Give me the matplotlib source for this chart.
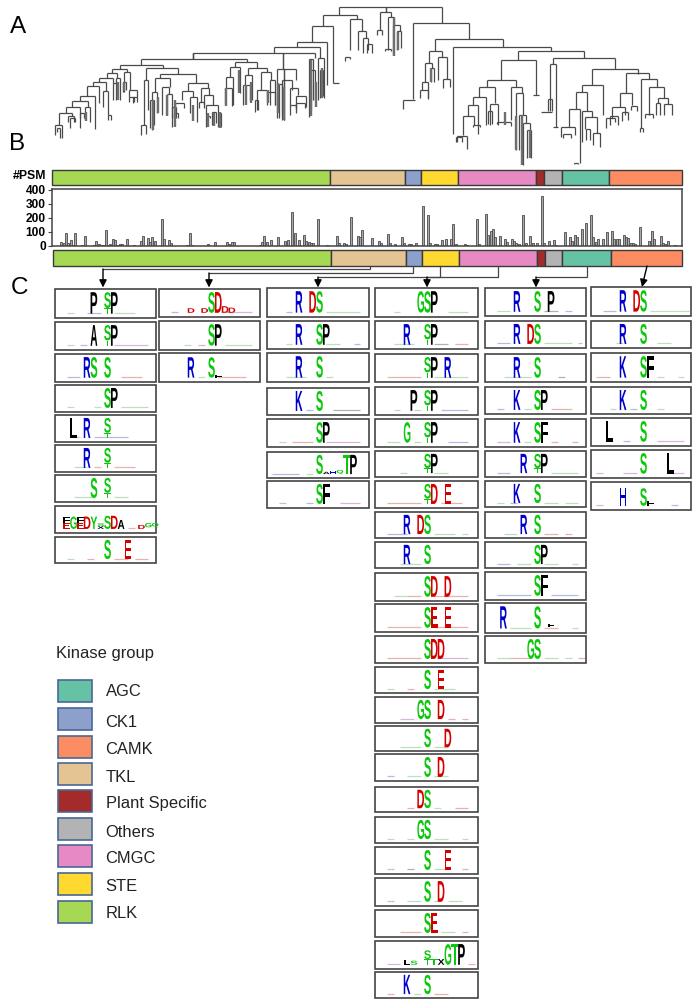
"""Kinase phosphosite figure: tree (A), group strips and #PSM bars (B), motif logos (C)."""
import matplotlib
matplotlib.use('Agg')
import matplotlib.pyplot as plt
from matplotlib.collections import LineCollection
from matplotlib.colors import to_rgba
from matplotlib.font_manager import FontProperties
from matplotlib.patches import Rectangle
from matplotlib.text import Text
from matplotlib.textpath import TextPath
from matplotlib.transforms import Affine2D, Bbox

W, H = 698, 1005
FONT = 'Liberation Sans'

# ---- group strips, left to right, and where each group ends on the strip
GROUPS = ['RLK', 'TKL', 'CK1', 'STE', 'CMGC', 'Plant Specific', 'Others', 'AGC', 'CAMK']
GROUP_COLOR = {
    'AGC': '#66C2A5', 'CK1': '#8DA0CB', 'CAMK': '#FC8D62', 'TKL': '#E5C494',
    'Plant Specific': '#A52A2A', 'Others': '#B3B3B3', 'CMGC': '#E78AC3',
    'STE': '#FFD92F', 'RLK': '#A6D854',
}
LEGEND_ORDER = ['AGC', 'CK1', 'CAMK', 'TKL', 'Plant Specific', 'Others', 'CMGC', 'STE', 'RLK']
STRIP_TOP_EDGES = [52, 330, 405, 421, 458, 536, 544, 562, 609, 682]
STRIP_BOTTOM_EDGES = [53, 331, 406, 422, 459, 537, 545, 562, 611, 682]

# ---- #PSM per kinase slot
BAR_SLOT = [4, 5, 6, 7, 8, 9, 10, 13, 14, 18, 19, 20, 21, 22, 23, 24, 25, 26, 27, 28, 29, 30, 32, 35,
            38, 39, 41, 42, 43, 44, 47, 48, 50, 51, 54, 58, 59, 60, 63, 67, 70, 75, 76, 77, 78,
            86, 87, 89, 90, 91, 92, 94, 97, 100, 101, 103, 104, 106, 108, 109, 110, 111, 112, 114,
            118, 122, 123, 125, 126,
            128, 131, 132, 133, 137, 140, 141, 144, 145, 147, 150, 151, 153, 154, 156, 159, 161, 162,
            164, 165, 167, 169, 171, 172, 173, 177, 178, 182, 183, 186, 187, 188, 189, 190, 192, 194,
            195, 197, 198, 199, 200, 202, 203, 205, 206, 208, 210, 211, 213, 215, 216, 220, 222, 223,
            224, 225, 227, 229, 231, 232, 233, 234, 236, 238, 240, 241, 242, 243, 245, 246, 247, 248,
            249, 250, 252, 256, 257, 258, 261, 262, 263, 264, 267]
BAR_PSM = [25, 20, 95, 18, 45, 8, 92, 5, 68, 10, 35, 15, 5, 5, 113, 10, 12, 50, 45, 10, 15, 15, 50, 8,
           35, 68, 55, 30, 62, 35, 190, 50, 45, 20, 3, 5, 90, 5, 3, 15, 30, 25, 15, 25, 25,
           3, 3, 10, 25, 70, 28, 40, 65, 35, 45, 245, 90, 45, 75, 35, 30, 20, 20, 190,
           8, 70, 20, 20, 15,
           210, 74, 67, 114, 60, 38, 24, 83, 20, 14, 67, 20, 12, 14, 24, 285, 220, 24,
           14, 14, 43, 48, 48, 155, 14, 12, 8, 190, 14, 230, 80, 110, 124, 62, 71, 52,
           30, 48, 33, 19, 14, 220, 19, 74, 19, 19, 357, 19, 38, 43, 10, 98, 62, 38,
           81, 67, 119, 167, 220, 67, 31, 52, 48, 98, 110, 48, 48, 48, 79, 67, 60, 24,
           24, 14, 133, 33, 105, 52, 69, 24, 14, 33, 5]
PSM_TICKS = [0, 100, 200, 300, 400]

# ---- tree: (left x, right x, bar y, left foot y, right foot y)
TREE = [
    (339, 442, 7, 15, 23), (386, 386, 7, 12, 12), (380, 391, 12, 30, 17), (377, 382, 30, 35, 35),
    (388, 394, 17, 50, 25), (393, 400, 25, 55, 31), (397, 401, 31, 50, 48), (385, 391, 49, 51, 51),
    (323, 357, 15, 26, 19), (350, 362, 19, 50, 31), (358, 366, 31, 50, 38), (363, 368, 38, 53, 50),
    (367, 372, 44, 53, 53), (345, 350, 57, 61, 59),
    (312, 333, 26, 42, 83), (333, 339, 83, 83, 83), (297, 327, 42, 47, 85), (274, 320, 47, 53, 58),
    (193, 315, 53, 59, 58), (283, 283, 53, 69, 69), (309, 313, 59, 117, 100), (318, 324, 58, 100, 98),
    (311, 315, 70, 110, 100), (320, 323, 70, 98, 96),
    (141, 247, 59, 65, 62), (193, 193, 53, 59, 59),
    (277, 296, 69, 118, 80), (284, 284, 69, 120, 120), (282, 292, 80, 120, 90), (290, 298, 88, 105, 95),
    (296, 306, 96, 110, 107), (296, 305, 103, 108, 108), (290, 296, 105, 115, 113), (279, 282, 84, 118, 115),
    (235, 257, 62, 67, 68), (230, 240, 67, 77, 93), (226, 233, 77, 88, 105), (225, 232, 88, 103, 106),
    (248, 267, 68, 75, 72), (245, 252, 75, 85, 100), (243, 250, 85, 105, 100), (261, 271, 72, 90, 80),
    (257, 267, 90, 110, 97), (255, 258, 100, 112, 110), (267, 275, 92, 105, 105), (270, 275, 80, 105, 105),
    (120, 163, 65, 69, 68), (146, 178, 68, 80, 74), (144, 148, 80, 125, 110), (141, 146, 125, 135, 134),
    (160, 196, 74, 78, 83), (155, 170, 78, 92, 87), (152, 157, 92, 130, 113), (150, 154, 100, 128, 125),
    (162, 169, 87, 115, 94), (167, 172, 94, 115, 127), (172, 176, 107, 118, 118),
    (188, 208, 83, 91, 88), (182, 193, 91, 100, 97), (175, 184, 103, 112, 108), (174, 178, 113, 118, 118),
    (190, 197, 97, 113, 122), (201, 209, 88, 102, 95), (199, 204, 102, 108, 108), (204, 213, 95, 105, 105),
    (206, 210, 116, 127, 118), (212, 216, 112, 125, 123), (218, 221, 113, 127, 127), (206, 218, 105, 116, 113),
    (112, 127, 69, 73, 72), (107, 117, 73, 78, 78), (116, 120, 78, 100, 100), (124, 130, 72, 92, 90),
    (123, 126, 82, 92, 90), (129, 137, 90, 97, 97), (129, 134, 97, 102, 102), (133, 137, 97, 103, 102),
    (99, 113, 78, 82, 83), (113, 117, 83, 100, 97), (93, 106, 82, 86, 91), (103, 108, 91, 107, 115),
    (108, 111, 115, 120, 120), (87, 99, 86, 96, 103), (80, 95, 96, 101, 129), (72, 88, 101, 107, 107),
    (85, 90, 107, 120, 122), (66, 80, 107, 113, 128), (80, 84, 113, 118, 118), (59, 72, 113, 125, 116),
    (55, 62, 125, 135, 138), (57, 60, 128, 132, 138), (68, 74, 116, 122, 122), (70, 75, 118, 128, 122),
    (413, 469, 23, 99, 39), (403, 415, 100, 109, 100), (435, 503, 39, 51, 47), (429, 442, 51, 63, 57),
    (425, 432, 63, 82, 68), (431, 434, 68, 82, 82), (422, 428, 82, 90, 99), (420, 428, 90, 98, 98),
    (438, 447, 57, 80, 79), (443, 450, 79, 88, 87), (453, 551, 47, 134, 51), (518, 584, 51, 60, 58),
    (501, 536, 60, 80, 95), (533, 539, 95, 95, 95), (487, 516, 80, 87, 87), (479, 495, 87, 97, 103),
    (473, 486, 97, 105, 125), (468, 478, 105, 116, 134), (463, 474, 116, 135, 125), (473, 480, 125, 127, 127),
    (457, 467, 136, 142, 149), (456, 462, 137, 142, 142), (490, 498, 104, 125, 125), (488, 492, 111, 124, 124),
    (511, 522, 87, 120, 93), (497, 511, 122, 124, 126), (516, 523, 93, 150, 115), (519, 526, 115, 150, 123),
    (523, 530, 123, 165, 130), (527, 531, 130, 158, 158),
    (553, 615, 58, 64, 69), (550, 556, 64, 111, 127), (548, 552, 99, 111, 111), (541, 552, 112, 112, 112),
    (553, 558, 127, 127, 127), (592, 638, 69, 85, 74), (582, 603, 85, 92, 115), (576, 587, 92, 109, 111),
    (569, 580, 109, 127, 163), (561, 575, 127, 137, 135), (563, 571, 134, 138, 138), (574, 578, 163, 164, 164),
    (582, 592, 111, 142, 117), (585, 597, 117, 129, 133), (586, 590, 129, 140, 140), (593, 600, 133, 145, 147),
    (626, 649, 73, 93, 79), (620, 632, 93, 107, 105), (612, 625, 107, 118, 115), (606, 615, 118, 128, 122),
    (610, 618, 116, 125, 125), (622, 628, 112, 121, 120), (631, 637, 106, 110, 111),
    (641, 657, 79, 128, 87), (640, 643, 128, 132, 132), (649, 664, 87, 115, 98), (645, 653, 114, 118, 118),
    (658, 668, 98, 103, 104), (656, 660, 103, 115, 115), (664, 672, 104, 115, 115),
]
# dense leaf groups that merge into thick grey bars: (x, top y, bottom y)
TREE_THICK = [
    (86, 112, 121), (117.5, 82, 100), (124, 82, 91), (153, 100, 130), (158, 97, 113), (167, 95, 116),
    (175, 100, 127), (193, 105, 121), (208, 113, 127), (214, 113, 126), (220, 112, 128), (226, 88, 106),
    (239, 70, 93), (246, 85, 105), (251, 82, 103), (268, 90, 103), (278, 83, 113), (284, 87, 120),
    (311, 60, 116), (316, 82, 107), (322, 68, 98), (393.5, 18, 56), (398, 32, 50), (431, 68, 82),
    (505, 112, 125), (516, 116, 150), (522, 115, 165), (530, 130, 158),
]

# ---- motif logos, column by column: (letter, site offset[, height, base]), S = phosphosite
ST = [('S', 0, .74, .26), ('T', 0, .25, 0)]
COL1_LOGOS = [
    [('P', -2), *ST, ('P', 1)],
    [('A', -2), *ST, ('P', 1)],
    [('R', -3), ('S', -2), ('S', 0)],
    [('S', 0), ('P', 1)],
    [('L', -5), ('R', -3), *ST],
    [('R', -3), *ST],
    [('S', -2), *ST],
    [('E', -6, .3, 0), ('F', -6, .29, .31), ('G', -5, .62, 0), ('E', -4, .3, 0), ('F', -4, .29, .31),
     ('D', -3, .62, 0), ('Y', -2, .62, 0), ('X', -1, .14, 0), ('S', -1, .14, .15), ('S', 0, .66, 0),
     ('D', 1, .66, 0), ('A', 2, .45, 0), ('D', 5, .2, 0), ('G', 6, .22, .08), ('Q', 7, .22, .08)],
    [('S', 0), ('E', 3)],
]
COL2_LOGOS = [
    [('D', -3, .22, 0), ('D', -1, .22, 0), ('S', 0, 1, 0), ('D', 1, 1, 0), ('D', 2, .32, 0), ('D', 3, .25, 0)],
    [('S', 0), ('P', 1)],
    [('R', -3, .95, 0), ('S', 0, .95, 0), ('F', 1, .14, 0)],
]
COL3_LOGOS = [
    [('R', -3), ('D', -1), ('S', 0)],
    [('R', -3), ('S', 0), ('P', 1)],
    [('R', -3), ('S', 0)],
    [('K', -3), ('S', 0)],
    [('S', 0), ('P', 1)],
    [('S', 0), ('A', 1, .12, 0), ('H', 2, .18, 0), ('Q', 3, .22, 0), ('T', 4), ('P', 5)],
    [('S', 0), ('F', 1)],
]
COL4_LOGOS = [
    [('G', -1), ('S', 0), ('P', 1)],
    [('R', -3), *ST, ('P', 1)],
    [*ST, ('P', 1), ('R', 3)],
    [('P', -2), *ST, ('P', 1)],
    [('G', -3), *ST, ('P', 1)],
    [*ST, ('P', 1)],
    [*ST, ('D', 1), ('E', 3)],
    [('R', -3), ('D', -1), ('S', 0)],
    [('R', -3), ('S', 0)],
    [('S', 0), ('D', 1), ('D', 3)],
    [('S', 0), ('E', 1), ('E', 3)],
    [('S', 0), ('D', 1), ('D', 2)],
    [('S', 0), ('E', 2)],
    [('G', -1), ('S', 0), ('D', 2)],
    [('S', 0), ('D', 3)],
    [('S', 0), ('D', 2)],
    [('D', -1), ('S', 0)],
    [('G', -1), ('S', 0)],
    [('S', 0), ('E', 3)],
    [('S', 0), ('D', 2)],
    [('S', 0), ('E', 1)],
    [('L', -3, .25, 0), ('S', -2, .2, 0), ('S', 0, .42, .28), ('T', 0, .27, 0), ('T', 1, .3, 0),
     ('X', 2, .28, 0), ('G', 3), ('T', 4), ('P', 5)],
    [('K', -3), ('S', 0)],
]
COL5_LOGOS = [
    [('R', -3), ('S', 0), ('P', 2)],
    [('R', -3), ('D', -1), ('S', 0)],
    [('R', -3), ('S', 0)],
    [('K', -3), ('S', 0), ('P', 1)],
    [('K', -3), ('S', 0), ('F', 1)],
    [('R', -2), *ST, ('P', 1)],
    [('K', -3), ('S', 0)],
    [('R', -2), ('S', 0)],
    [('S', 0), ('P', 1)],
    [('S', 0), ('F', 1)],
    [('R', -5), ('S', 0), ('F', 2, .14, .08)],
    [('G', -1), ('S', 0)],
]
COL6_LOGOS = [
    [('R', -3), ('D', -1), ('S', 0)],
    [('R', -3), ('S', 0)],
    [('K', -3), ('S', 0), ('F', 1)],
    [('K', -3), ('S', 0)],
    [('L', -5), ('S', 0)],
    [('S', 0), ('L', 4)],
    [('H', -3, .85, 0), ('S', 0, .85, 0), ('F', 1, .25, 0)],
]
COLUMN_LOGOS = [COL1_LOGOS, COL2_LOGOS, COL3_LOGOS, COL4_LOGOS, COL5_LOGOS, COL6_LOGOS]

# faint background of each logo: (from offset, to offset, colour)
COL1_NOISE = [
    [(-6, -5, 'g'), (-3, -1, 'b'), (1, 4, 'g')], [(-6, -5, 'g'), (-4, -3, 'b'), (1, 6, 'm')],
    [(-6, -4, 'b'), (2, 5, 'r')], [(-6, -5, 'g'), (-2, -1, 'g'), (2, 6, 'g')],
    [(-5, -4, 'g'), (-2, 3, 'b')], [(-5, -3, 'g'), (-2, -1, 'r'), (1, 4, 'r')],
    [(-5, -2, 'g'), (1, 3, 'g')], [(3, 4, 'r')], [(-6, -5, 'g'), (-3, -2, 'r'), (1, 3, 'r'), (4, 6, 'r')],
]
COL2_NOISE = [[(-6, -5, 'b'), (2, 6, 'm')], [(-4, -3, 'g'), (-2, -1, 'r'), (2, 6, 'g')], [(-2, -1, 'g'), (1, 5, 'r')]]
COL3_NOISE = [
    [(-5, -4, 'b'), (1, 6, 'g')], [(-5, -4, 'g'), (1, 3, 'g'), (5, 6, 'b')], [(-5, -2, 'g'), (1, 2, 'g')],
    [(-2, -1, 'b'), (2, 6, 'k')], [(-6, -5, 'g'), (-4, -1, 'r'), (1, 6, 'm')], [(-7, -3, 'b'), (-2, -1, 'g')],
    [(-6, -5, 'm'), (-2, -1, 'b'), (3, 6, 'm')],
]
COL4_NOISE = [
    [(-5, -4, 'g'), (3, 6, 'g')], [(-5, -2, 'g'), (1, 3, 'k'), (4, 6, 'r')], [(-6, -1, 'r'), (1, 6, 'g')],
    [(-5, -4, 'g'), (-2, -1, 'g'), (2, 6, 'b')], [(-6, -4, 'g'), (-2, -1, 'g'), (3, 6, 'b')], [(-4, -3, 'g'), (1, 3, 'g')],
    [(-6, -1, 'r'), (2, 2.5, 'r'), (3, 5, 'r')], [(-6, -3, 'b'), (1, 4, 'g'), (5, 6, 'g')], [(-4, -1, 'g')],
    [(-5, -3, 'g'), (-3, -1, 'r'), (1, 6, 'r')], [(-6, -1, 'r'), (1, 6, 'r')], [(-6, -1, 'r'), (2, 6, 'm')],
    [(-6, -5, 'g'), (-3, -2, 'r'), (1, 4, 'g')], [(-4, -2, 'm'), (3, 4, 'r'), (5, 6, 'r')], [(-4, -1, 'g'), (1, 3, 'g')],
    [(-6, -5, 'b'), (-3, -1, 'g'), (1, 3, 'g')], [(-3, -2, 'r'), (1, 2, 'g'), (4, 6, 'r')], [(-6, -5, 'g'), (-3, -2, 'g'), (1, 3, 'g'), (5, 6, 'g')],
    [(-6, -5, 'm'), (-3, -2, 'k'), (1, 3, 'g'), (5, 6, 'r')], [(-6, -5, 'm'), (-3, -1, 'g'), (1, 2, 'g'), (3, 5, 'g')],
    [(-4, -1, 'r'), (2, 4, 'g'), (5, 6, 'r')], [(-6, -4, 'm'), (6, 7, 'r')], [(-6, -5, 'r'), (-2, -1, 'g'), (1, 3, 'r')],
]
COL5_NOISE = [
    [(-6, -4, 'g'), (1, 3, 'k'), (4, 5, 'b')], [(-6, -4, 'b'), (1, 5, 'g'), (6, 6.5, 'r')], [(-5, -1, 'g'), (3, 4, 'k')],
    [(-6, -5, 'b'), (-2, -1, 'g'), (2, 5, 'r')], [(-6, -4, 'm'), (-2, -1, 'g'), (2, 3, 'r'), (5, 6, 'r')],
    [(-6, -4, 'b'), (2, 6, 'g')], [(-6, -5, 'g'), (-4, -3, 'b'), (1, 3, 'g'), (4, 6, 'g')], [(-5, -3, 'g'), (1, 3, 'r'), (4, 5, 'r')],
    [(-6, -4, 'b'), (-3, -1, 'g'), (1, 3, 'g'), (5, 6, 'g')], [(-6, -1, 'b'), (2, 6, 'b')], [(-4, -1, 'g'), (1, 3, 'r'), (5, 6, 'g')],
    [(-6, -4, 'g'), (-4, -1, 'r'), (1, 3, 'g'), (4, 5, 'g'), (6, 7, 'r')],
]
COL6_NOISE = [
    [(-6, -4, 'b'), (1, 7, 'g')], [(-4, -3, 'g'), (2, 4, 'g')], [(-7, -5, 'r'), (2, 3, 'g'), (5, 6, 'g')],
    [(-5, -4, 'g'), (-2, -1, 'b'), (2, 3, 'g')], [(-3, -2, 'b'), (-1, -1, 'g'), (2, 6, 'm')], [(-7, -6, 'm'), (-3, -1, 'm'), (4, 6, 'm')],
    [(-7, -6, 'm'), (4, 5, 'b')],
]
COLUMN_NOISE = [COL1_NOISE, COL2_NOISE, COL3_NOISE, COL4_NOISE, COL5_NOISE, COL6_NOISE]

# box outlines of the logo panels (layout of the reference)
COLUMN_X = [(55, 156), (159, 260), (267, 369), (375, 478), (485, 586), (591, 691)]
COLUMN_Y = [
    [(289, 318), (322, 350), (354, 382), (385, 412), (415, 442), (445, 472), (475, 502), (506, 533), (537, 563)],
    [(289, 317), (321, 350), (353, 382)],
    [(288, 317), (321, 349), (353, 382), (388, 415), (419, 447), (452, 478), (481, 508)],
    [(288, 317), (321, 349), (354, 382), (387, 415), (419, 447), (451, 477), (481, 508), (512, 538), (542, 568),
     (573, 601), (604, 632), (636, 663), (667, 693), (697, 723), (726, 751), (754, 781), (787, 812), (817, 843),
     (847, 874), (878, 906), (910, 937), (941, 969), (972, 998)],
    [(288, 316), (321, 348), (354, 382), (387, 414), (419, 447), (451, 477), (481, 507), (512, 538), (542, 568),
     (572, 600), (603, 633), (636, 663)],
    [(287, 316), (321, 348), (353, 382), (387, 414), (418, 446), (450, 478), (482, 510)],
]
LETTER_COLOR = {
    'S': '#0CC80C', 'T': '#0CC80C', 'G': '#0CC80C', 'Y': '#0CC80C', 'Q': '#0CC80C',
    'D': '#D40000', 'E': '#D40000', 'R': '#0000CC', 'K': '#0000CC', 'H': '#0000CC',
    'P': '#000000', 'A': '#000000', 'L': '#000000', 'F': '#000000', 'X': '#000000',
}
NOISE_COLOR = {'g': '#4CAF50', 'r': '#C0392B', 'b': '#3A4FB0', 'k': '#333333', 'm': '#A03CA0'}
SITE_FROM_LEFT = 52.5
COLUMN_STEP = 6.8
LETTER_WIDTH = 6.7


class LogoLetter(Text):
    """A real text letter stretched to fill a logo cell, as sequence logos do."""

    def __init__(self, x, y_base, width, height, letter, color):
        # nominal size follows the cell; draw() does the actual stretching
        super().__init__(x, y_base, letter, color=color, fontfamily=FONT, fontweight='bold',
                         fontsize=min(7, 0.6 * height))
        self.cell = (x, y_base, width, height)

    def get_window_extent(self, renderer=None, dpi=None):
        x, y, w, h = self.cell
        return Bbox(self.axes.transData.transform([(x, y), (x + w, y - h)]))

    def draw(self, renderer):
        x, y, w, h = self.cell
        path = TextPath((0, 0), self.get_text(), size=10, prop=FontProperties(family=FONT, weight='bold'))
        box = path.get_extents()
        tr = (Affine2D().translate(-box.x0, -box.y0).scale(w / box.width, -h / box.height)
              .translate(x, y) + self.axes.transData)
        gc = renderer.new_gc()
        gc.set_linewidth(0)
        renderer.draw_path(gc, path, tr, rgbFace=to_rgba(self.get_color()))
        gc.restore()


def draw_strip(ax, edges, top, bottom):
    for name, x0, x1 in zip(GROUPS, edges[:-1], edges[1:]):
        ax.add_patch(Rectangle((x0, top), x1 - x0, bottom - top, facecolor=GROUP_COLOR[name],
                               edgecolor='#3a3a3a', linewidth=1.0))


def draw_tree(ax):
    segs = []
    for xl, xr, y, yl, yr in TREE:
        segs += [[(xl, y), (xr, y)], [(xl, y), (xl, yl)], [(xr, y), (xr, yr)]]
    ax.add_collection(LineCollection(segs, colors='#4a4a4a', linewidths=0.9, zorder=5))
    thick = [[(x, y0), (x, y1)] for x, y0, y1 in TREE_THICK]
    ax.add_collection(LineCollection(thick, colors='#6e6e6e', linewidths=1.7, zorder=5))


def draw_logo(ax, x0, x1, top, bottom, letters, noise):
    ax.add_patch(Rectangle((x0, top), x1 - x0, bottom - top, facecolor='white', edgecolor='#444444', linewidth=1.2))
    site = x0 + SITE_FROM_LEFT
    base = bottom - 0.15 * (bottom - top)
    full = 0.74 * (bottom - top)
    for k0, k1, c in noise:
        ax.hlines(base - 0.6, site + k0 * COLUMN_STEP, site + k1 * COLUMN_STEP, colors=NOISE_COLOR[c],
                  linewidth=0.9, alpha=0.38)
    for item in letters:
        letter, k = item[:2]
        h, b = item[2:] if len(item) > 2 else (1, 0)
        ax.add_artist(LogoLetter(site + k * COLUMN_STEP - LETTER_WIDTH / 2, base - b * full, LETTER_WIDTH, h * full,
                                 letter, LETTER_COLOR[letter]))


def arrow(ax, start, end):
    ax.annotate('', xy=end, xytext=start,
                arrowprops=dict(arrowstyle='-|>', color='black', lw=1.0, mutation_scale=11,
                                shrinkA=0, shrinkB=0))


def main():
    fig = plt.figure(figsize=(W / 100, H / 100), dpi=100)
    ax = fig.add_axes([0, 0, 1, 1])
    ax.set_xlim(0, W)
    ax.set_ylim(H, 0)
    ax.set_axis_off()

    for s, x, y in [('A', 10, 27), ('B', 9, 144), ('C', 11, 288)]:
        ax.text(x, y, s, fontsize=17.5, family=FONT, va='center', ha='left')

    draw_strip(ax, STRIP_TOP_EDGES, 169.5, 185)
    draw_strip(ax, STRIP_BOTTOM_EDGES, 250, 266)
    draw_tree(ax)
    ax.text(46, 176, '#PSM', fontsize=8.8, family=FONT, fontweight='bold', ha='right', va='center')

    # bars of B on their own axes: slot 0..270 spans the strip, 0 at the floor
    ax_bar = fig.add_axes([52 / W, 1 - 246 / H, 630 / W, 57 / H])
    ax_bar.bar(BAR_SLOT, BAR_PSM, width=0.95, facecolor='#a8a8a8', edgecolor='#4a4a4a', linewidth=0.6)
    ax_bar.set_xlim(0, 270)
    ax_bar.set_ylim(0, 407)
    ax_bar.set_xticks([])
    ax_bar.set_yticks(PSM_TICKS)
    ax_bar.tick_params(axis='y', length=3, width=0.8, pad=1.5, color='#444444')
    for lab in ax_bar.get_yticklabels():
        lab.set_fontsize(8.6)
        lab.set_fontweight('bold')
        lab.set_family(FONT)
    for sp in ax_bar.spines.values():
        sp.set_color('#444444')
        sp.set_linewidth(1.1)

    # connectors from the lower strip down to the logo columns
    for xs, ys in [([370, 370, 103], [266, 269, 269]), ([413, 413, 209], [266, 273, 273]),
                   ([498, 498, 318], [266, 277, 277]), ([440, 440, 427], [266, 277, 277]),
                   ([587, 587, 536], [266, 277, 277])]:
        ax.plot(xs, ys, color='#444444', lw=0.9, solid_joinstyle='miter')
    for x, y0 in [(103, 269), (209, 273), (318, 277), (427, 277), (536, 277)]:
        arrow(ax, (x, y0), (x, 287.5))
    arrow(ax, (647, 266), (642, 287))

    for (x0, x1), rows, logos, noises in zip(COLUMN_X, COLUMN_Y, COLUMN_LOGOS, COLUMN_NOISE):
        for (top, bottom), letters, noise in zip(rows, logos, noises):
            draw_logo(ax, x0, x1, top, bottom, letters, noise)

    # legend drawn by hand to keep the reference's uneven rows
    ax.text(56, 653, 'Kinase group', fontsize=11.9, family=FONT, va='center', color='#222222')
    swatch_top = [680, 708, 736, 763, 790, 818, 845, 873, 901]
    label_y = [691, 722, 749, 777, 803, 832, 858, 886, 913]
    for name, top, ly in zip(LEGEND_ORDER, swatch_top, label_y):
        ax.add_patch(Rectangle((58, top), 34, 21.5, facecolor=GROUP_COLOR[name], edgecolor='#4a6796', linewidth=1.2))
        ax.text(105.5, ly, name, fontsize=11.9, family=FONT, va='center', color='#222222')

    fig.savefig('out.png', dpi=100)


if __name__ == '__main__':
    main()
